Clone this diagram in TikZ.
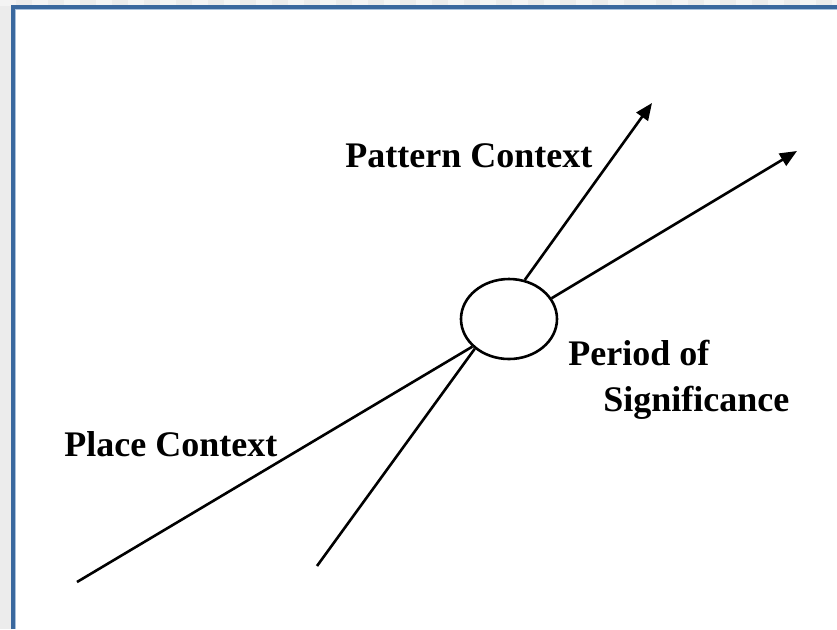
\documentclass[tikz,border=0pt]{standalone}
\usepackage{fontspec}
\setmainfont{Liberation Serif}
\usetikzlibrary{arrows.meta,positioning,shapes.geometric}
\definecolor{ctxframe}{HTML}{3A689E}
\definecolor{ctxframelt}{HTML}{A9C1DC}
\definecolor{ctxgrey}{HTML}{ECECEC}
\definecolor{ctxgreylt}{HTML}{F4F4F4}
\tikzstyle{ctxhub}=[ellipse,draw=black,fill=white,line width=1.3pt,inner sep=0pt,
  minimum width=48pt,minimum height=40pt]
\tikzstyle{ctxline}=[draw=black,line width=1.3pt]
\tikzstyle{ctxarrow}=[-{Triangle[length=8.5pt,width=7pt]},draw=black,line width=1.3pt]
\tikzstyle{ctxlabel}=[font=\fontsize{18}{23}\selectfont\bfseries,inner sep=0pt,align=left]

\begin{document}
\begin{tikzpicture}[x=0.5pt,y=-0.5pt]
    % ---- page frame ----
    \useasboundingbox (0,0) rectangle (837,629);
    \fill[ctxgrey] (0,0) rectangle (837,629);
    \foreach \i in {0,2,...,52} {\fill[ctxgreylt] (\i*16,0) rectangle (\i*16+16,6);}
    \fill[white] (13,7) rectangle (837,629);
    \draw[ctxframelt,line width=0.5pt] (15.5,629) -- (15.5,9.5) -- (837,9.5);
    \draw[ctxframe,line width=1.6pt] (13,629) -- (13,7) -- (837,7);

    % ---- hub and axes ----
    \node[ctxhub] (hub) at (509,319) {};
    \coordinate (placeend) at (77,582);
    \coordinate (lowend) at (317,566);
    \coordinate (patterntip) at (652,103);
    \coordinate (periodtip) at (797,151);
    \draw[ctxline] (placeend) -- (hub.217);
    \draw[ctxline] (lowend) -- (hub.221);
    \draw[ctxarrow] (hub.68) -- (patterntip);
    \draw[ctxarrow] (hub.26) -- (periodtip);

    % ---- labels ----
    \node[ctxlabel,anchor=base west] (pattern) at (345,167) {Pattern Context};
    \node[ctxlabel,anchor=base west] (place) at (64,456) {Place Context};
    \node[ctxlabel,anchor=base west] (period) at (568,411) {Period of\\\hspace{17.5pt}Significance};
  \end{tikzpicture}
\end{document}
